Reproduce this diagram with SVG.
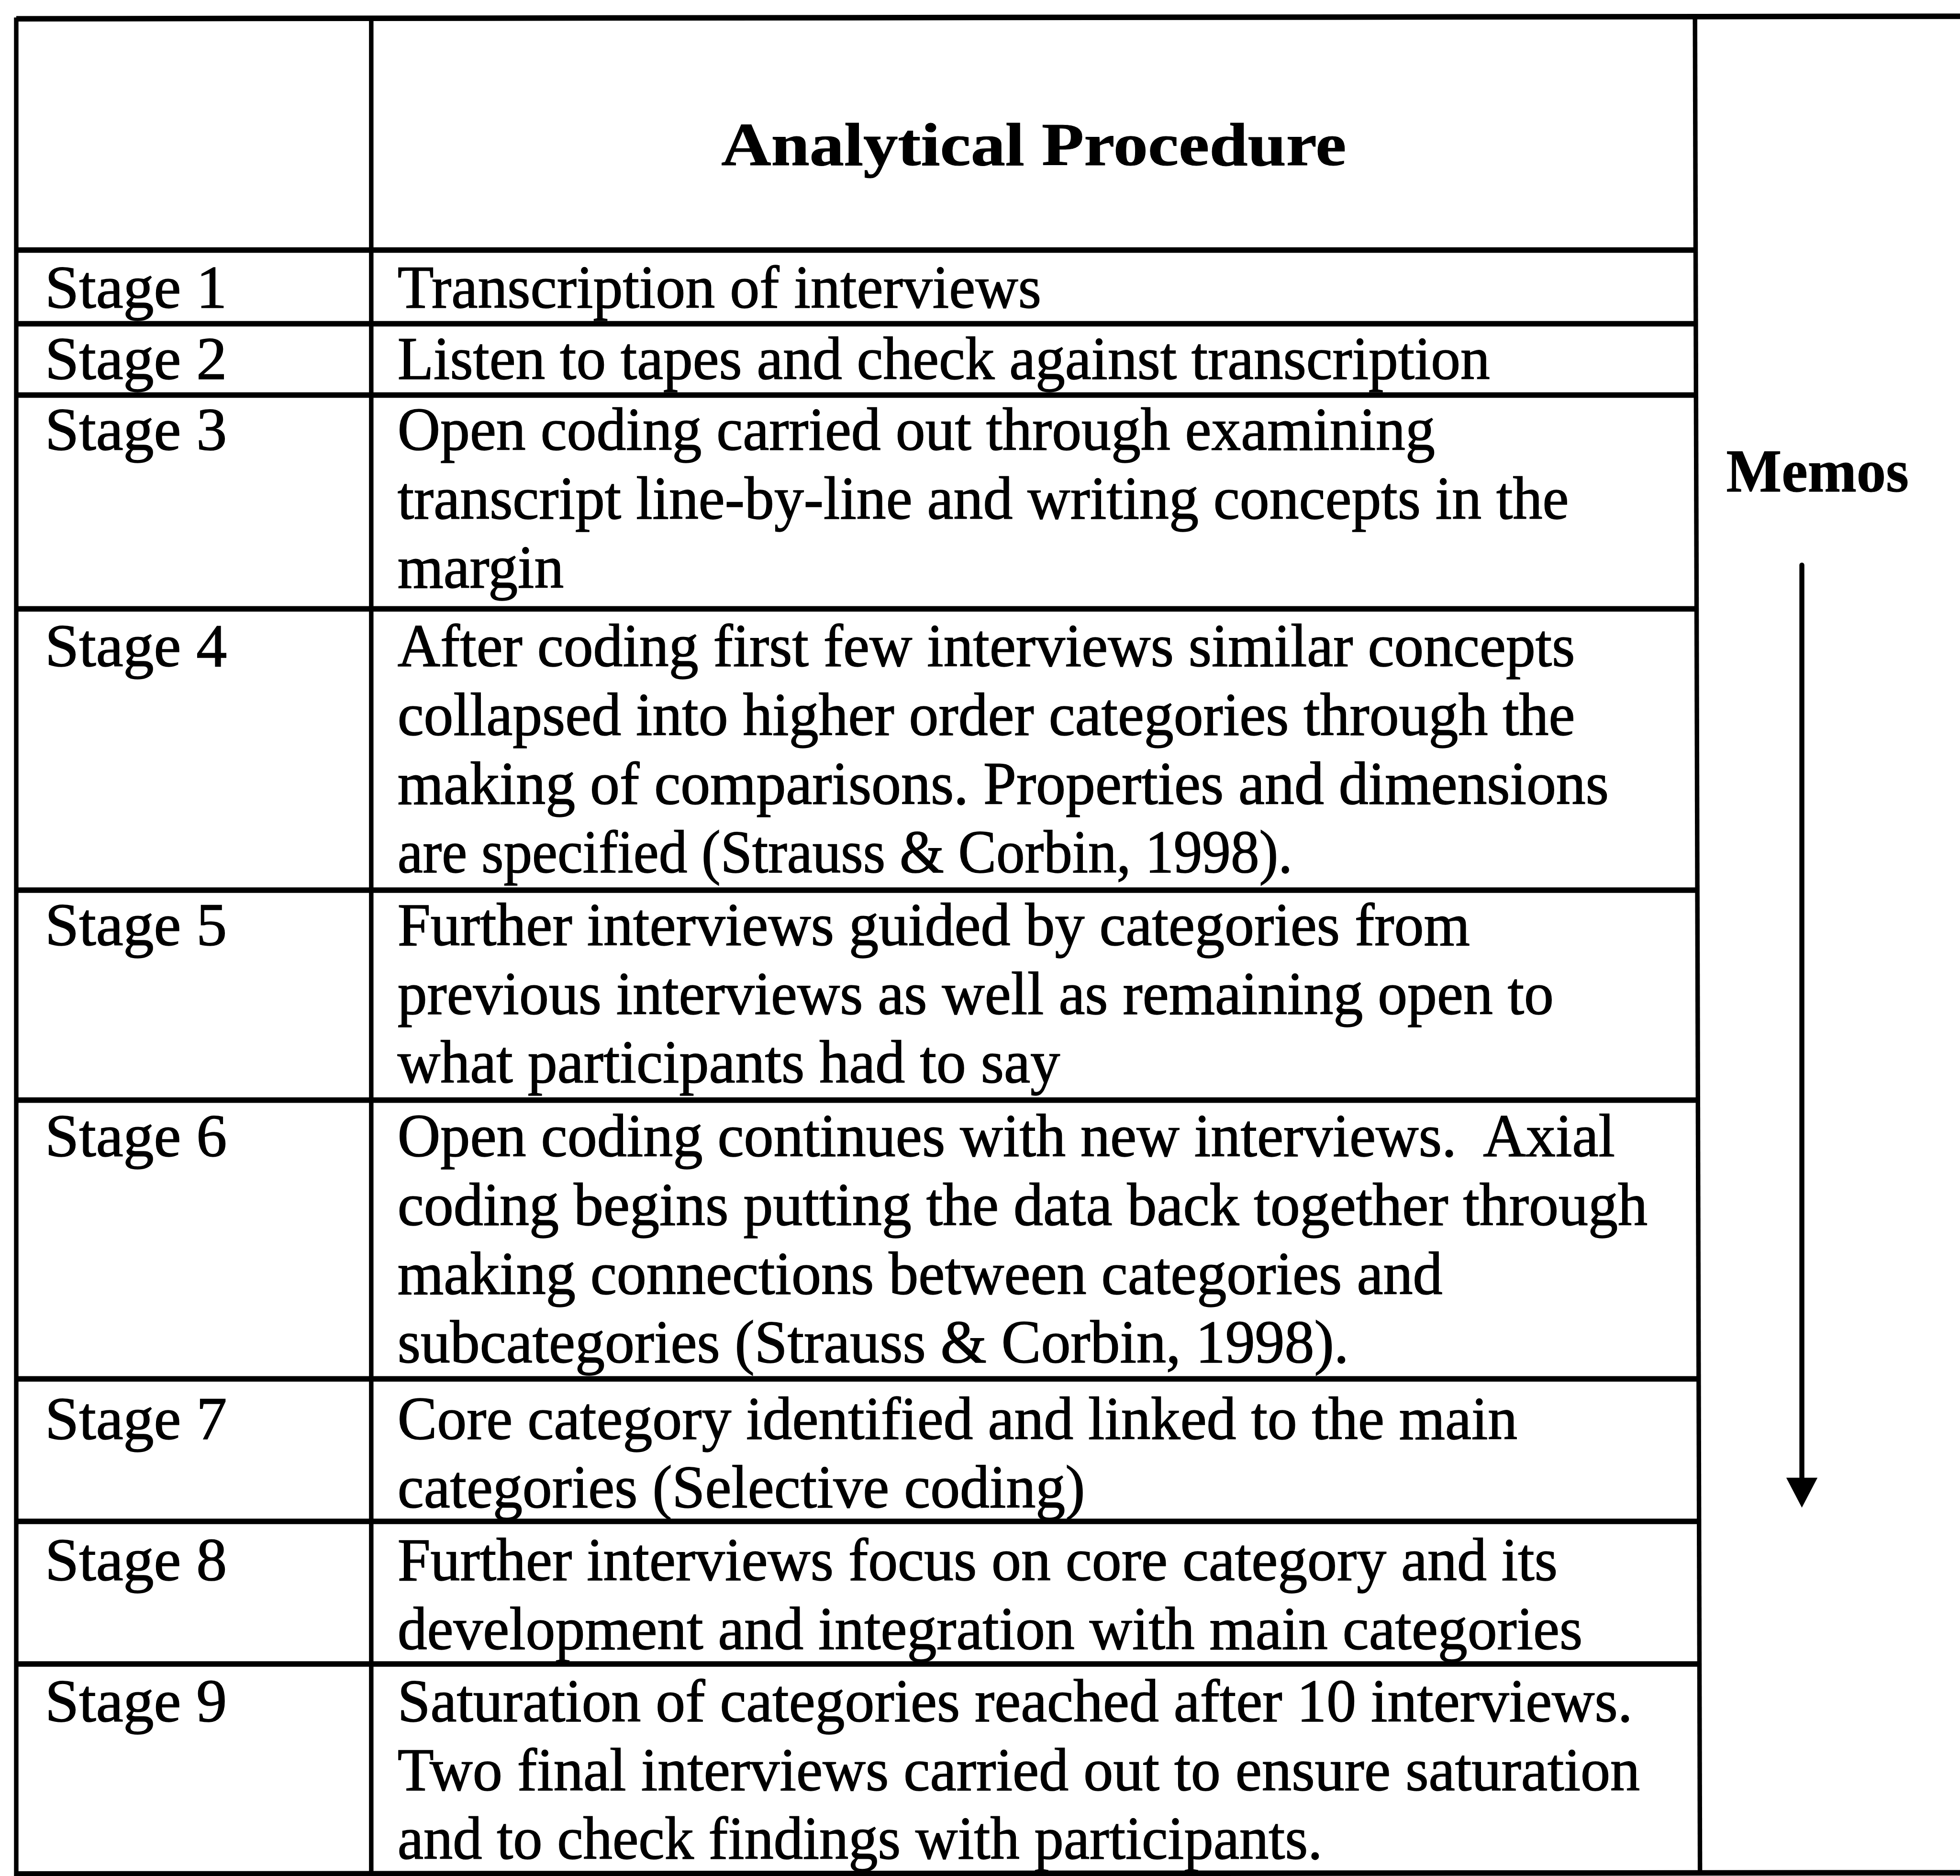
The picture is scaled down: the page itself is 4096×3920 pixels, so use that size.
<svg xmlns="http://www.w3.org/2000/svg" width="4096" height="3920" viewBox="0 0 4096 3920">
  <style>
    .t { font-family: "Liberation Serif", "Times New Roman", serif; font-size: 49px; fill: #000; stroke: #000; stroke-width: 0.6; }
    .b { font-weight: bold; stroke-width: 0.4; }
    .h { stroke: #000; stroke-width: 4.4; fill: none; }
    .v { stroke: #000; stroke-width: 3.6; fill: none; }
  </style>
  <rect width="4096" height="3920" fill="#fff"/>
  <!-- drawn on a 1568-wide layout grid, scaled up to the page -->
  <g transform="scale(2.61224)">
    <g id="grid">
      <path class="h" d="M13,15 L1568,13"/>
      <path class="v" d="M13,14 L13,1501"/>
      <path class="v" d="M297,14 L297,1501"/>
      <path class="v" d="M1356,14 L1360,1499"/>
      <path class="h" d="M13,200 L1357,200"/>
      <path class="h" d="M13,259 L1357,259"/>
      <path class="h" d="M13,316 L1357,316"/>
      <path class="h" d="M13,487 L1357,487"/>
      <path class="h" d="M13,712 L1358,712"/>
      <path class="h" d="M13,880 L1358,880"/>
      <path class="h" d="M13,1103 L1359,1103"/>
      <path class="h" d="M13,1217 L1359,1217"/>
      <path class="h" d="M13,1331 L1359,1331"/>
      <path class="h" d="M13,1499 L1568,1498"/>
    </g>

    <g id="header">
      <text class="t b" x="577" y="132" font-size="61" textLength="500" lengthAdjust="spacingAndGlyphs">Analytical Procedure</text>
    </g>

    <g id="memos">
      <text class="t b" x="1381" y="393" font-size="50" textLength="146" lengthAdjust="spacingAndGlyphs">Memos</text>
    </g>

    <g id="connectors">
      <line x1="1441.5" y1="452" x2="1441.5" y2="1185" stroke="#000" stroke-width="4" stroke-linecap="round"/>
      <polygon points="1429,1182 1454,1182 1441.5,1206" fill="#000"/>
    </g>

    <g id="stage1">
      <text class="t" x="36" y="246">Stage 1</text>
      <text class="t" x="318" y="246" textLength="515" lengthAdjust="spacingAndGlyphs">Transcription of interviews</text>
    </g>

    <g id="stage2">
      <text class="t" x="36" y="303">Stage 2</text>
      <text class="t" x="318" y="303" textLength="874" lengthAdjust="spacingAndGlyphs">Listen to tapes and check against transcription</text>
    </g>

    <g id="stage3">
      <text class="t" x="36" y="360">Stage 3</text>
      <text class="t" x="318" y="360" textLength="830" lengthAdjust="spacingAndGlyphs">Open coding carried out through examining</text>
      <text class="t" x="318" y="415" textLength="937" lengthAdjust="spacingAndGlyphs">transcript line-by-line and writing concepts in the</text>
      <text class="t" x="318" y="470" textLength="133" lengthAdjust="spacingAndGlyphs">margin</text>
    </g>

    <g id="stage4">
      <text class="t" x="36" y="533">Stage 4</text>
      <text class="t" x="318" y="533" textLength="942" lengthAdjust="spacingAndGlyphs">After coding first few interviews similar concepts</text>
      <text class="t" x="318" y="588" textLength="942" lengthAdjust="spacingAndGlyphs">collapsed into higher order categories through the</text>
      <text class="t" x="318" y="643" textLength="969" lengthAdjust="spacingAndGlyphs">making of comparisons. Properties and dimensions</text>
      <text class="t" x="318" y="698" textLength="716" lengthAdjust="spacingAndGlyphs">are specified (Strauss &amp; Corbin, 1998).</text>
    </g>

    <g id="stage5">
      <text class="t" x="36" y="756">Stage 5</text>
      <text class="t" x="318" y="756" textLength="858" lengthAdjust="spacingAndGlyphs">Further interviews guided by categories from</text>
      <text class="t" x="318" y="811" textLength="925" lengthAdjust="spacingAndGlyphs">previous interviews as well as remaining open to</text>
      <text class="t" x="318" y="866" textLength="530" lengthAdjust="spacingAndGlyphs">what participants had to say</text>
    </g>

    <g id="stage6">
      <text class="t" x="36" y="925">Stage 6</text>
      <text class="t" x="318" y="925" textLength="974" lengthAdjust="spacingAndGlyphs" xml:space="preserve">Open coding continues with new interviews.  Axial</text>
      <text class="t" x="318" y="980" textLength="1000" lengthAdjust="spacingAndGlyphs">coding begins putting the data back together through</text>
      <text class="t" x="318" y="1035" textLength="836" lengthAdjust="spacingAndGlyphs">making connections between categories and</text>
      <text class="t" x="318" y="1090" textLength="761" lengthAdjust="spacingAndGlyphs">subcategories (Strauss &amp; Corbin, 1998).</text>
    </g>

    <g id="stage7">
      <text class="t" x="36" y="1151">Stage 7</text>
      <text class="t" x="318" y="1151" textLength="896" lengthAdjust="spacingAndGlyphs">Core category identified and linked to the main</text>
      <text class="t" x="318" y="1206" textLength="550" lengthAdjust="spacingAndGlyphs">categories (Selective coding)</text>
    </g>

    <g id="stage8">
      <text class="t" x="36" y="1264">Stage 8</text>
      <text class="t" x="318" y="1264" textLength="928" lengthAdjust="spacingAndGlyphs">Further interviews focus on core category and its</text>
      <text class="t" x="318" y="1319" textLength="948" lengthAdjust="spacingAndGlyphs">development and integration with main categories</text>
    </g>

    <g id="stage9">
      <text class="t" x="36" y="1377">Stage 9</text>
      <text class="t" x="318" y="1377" textLength="988" lengthAdjust="spacingAndGlyphs">Saturation of categories reached after 10 interviews.</text>
      <text class="t" x="318" y="1432" textLength="994" lengthAdjust="spacingAndGlyphs">Two final interviews carried out to ensure saturation</text>
      <text class="t" x="318" y="1487" textLength="740" lengthAdjust="spacingAndGlyphs">and to check findings with participants.</text>
    </g>
  </g>
</svg>
